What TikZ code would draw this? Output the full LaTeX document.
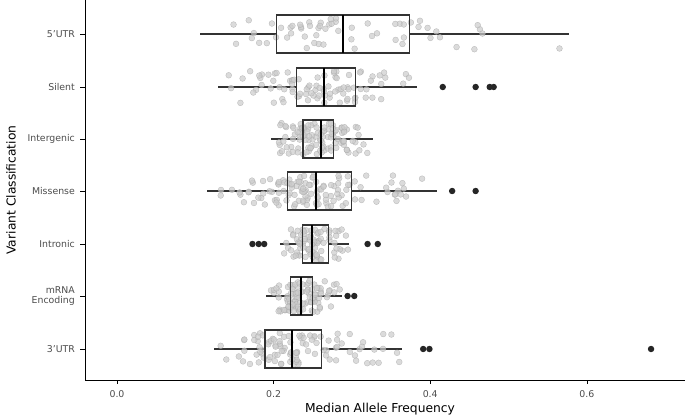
\documentclass[tikz,border=0pt]{standalone}
\usepackage{fontspec}
\setmainfont{DejaVu Sans}
\usetikzlibrary{positioning}
\tikzset{
  pt/.style={circle,draw=gray!70,fill=gray!40,draw opacity=.7,fill opacity=.7,inner sep=0pt,minimum size=5pt,line width=.3pt},
  outl/.style={circle,fill=black!85,inner sep=0pt,minimum size=5.5pt},
  bx/.style={draw=black!80,line width=.9pt},
  tick/.style={font=\fontsize{8}{9}\selectfont,text=black!70}
}
\begin{document}
\begin{tikzpicture}[x=0.03cm,y=-0.03cm]
\useasboundingbox (0,0) rectangle (685,418);
%axes
\draw[line width=.6pt] (85,0)--(85,380)--(685,380);
\node[font=\fontsize{10.5}{12}\selectfont] (xt) at (380,409){Median Allele Frequency};
\node[font=\fontsize{10.5}{12}\selectfont,rotate=90] (yt) at (11,190){Variant Classification};
\foreach \y/\lab in {34/{5'UTR},87/{Silent},139/{Intergenic},191/{Missense},
  244/{Intronic},296/{\shortstack[r]{mRNA\\Encoding}},349/{3'UTR}}{
  \draw (80,\y)--(85,\y);
  \node[tick,anchor=east,align=right] (lab\y) at (79,\y){\lab};
}
\begin{scope}[shift={(117,0)},x=23.49cm]
\foreach \v in {0.0,0.2,0.4,0.6}{
\draw (\v,380)--(\v,384);
\node[tick,anchor=north] at (\v,386){\v};
}
%rows: y/lo whisker/q1/median/q3/hi whisker/n points
\pgfmathsetseed{11}
\foreach \y/\wl/\qa/\md/\qb/\wh/\n in {
  34/0.106/0.204/0.289/0.374/0.577/60,
  87/0.129/0.229/0.264/0.304/0.383/90,
  139/0.197/0.2375/0.261/0.277/0.327/110,
  191/0.115/0.218/0.254/0.300/0.409/120,
  244/0.208/0.237/0.249/0.270/0.296/80,
  296/0.1906/0.2215/0.2355/0.250/0.287/100,
  349/0.124/0.189/0.223/0.2617/0.364/100}{
  \draw[bx] (\wl,\y)--(\qa,\y) (\qb,\y)--(\wh,\y);
  \foreach \i in {1,...,\n}{
    \pgfmathsetmacro{\rr}{(rnd+rnd)/2}
    \pgfmathsetmacro{\vx}{\rr<0.5 ? \wl+(\md-\wl)*2*\rr : \md+(\wh-\md)*(2*\rr-1)}
    \pgfmathsetmacro{\vy}{\y+16*(2*rnd-1)}
    \node[pt] at (\vx,\vy){};
  }
  \draw[bx] (\qa,\y-19) rectangle (\qb,\y+19);
  \draw[line width=1.6pt] (\md,\y-19)--(\md,\y+19);
}
%outliers
\foreach \x/\y in {0.416/87,0.458/87,0.476/87,0.481/87,0.428/191,0.458/191,
  0.173/244,0.181/244,0.188/244,0.320/244,0.333/244,0.2945/296,0.303/296,
  0.391/349,0.399/349,0.682/349}{
  \node[outl] at (\x,\y){};
}
\end{scope}
\end{tikzpicture}
\end{document}
